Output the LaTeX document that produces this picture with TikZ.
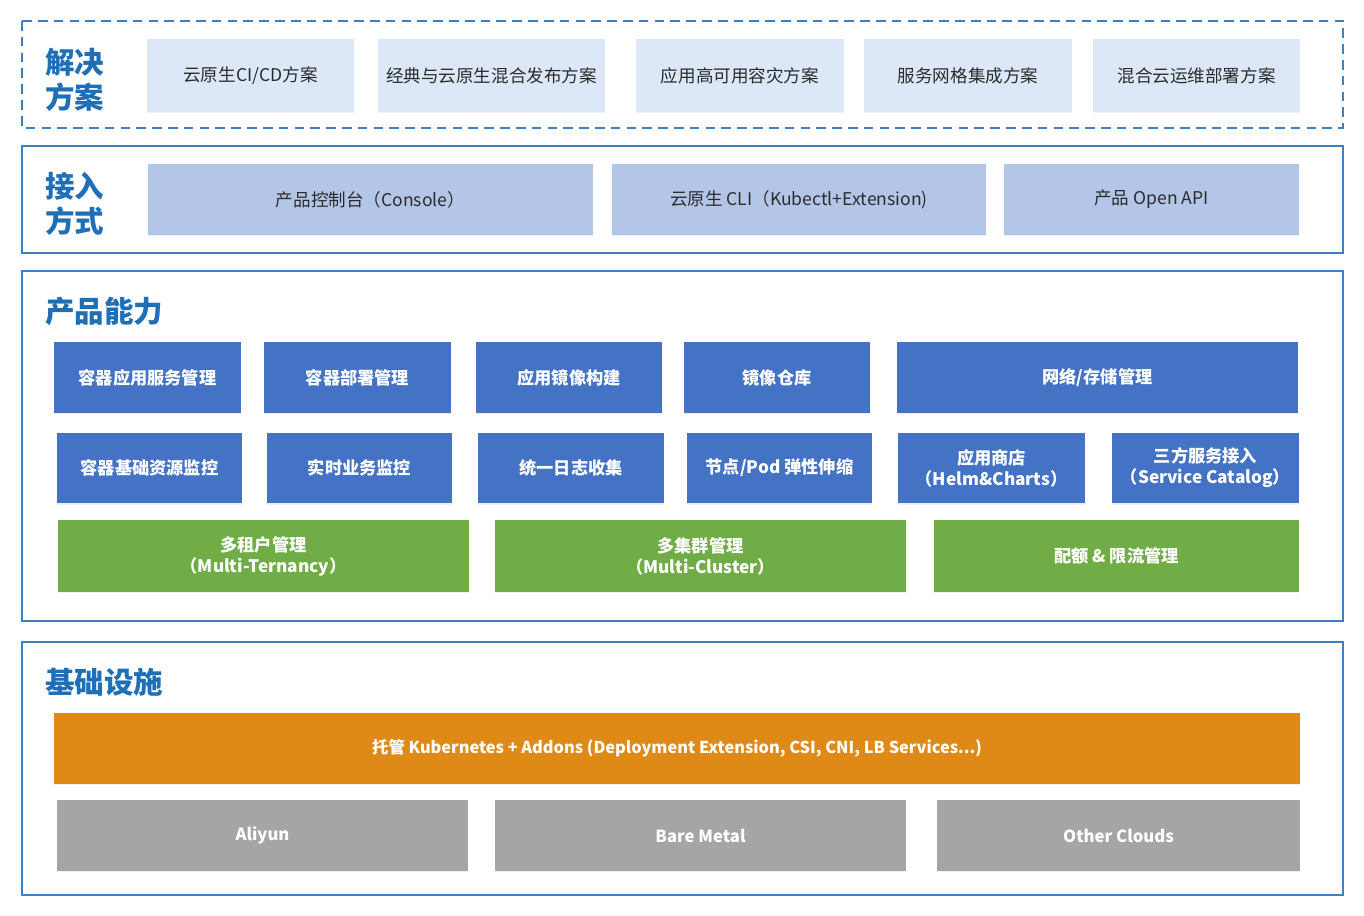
\documentclass[tikz,border=0pt]{standalone}
\usepackage{fontspec}
\setmainfont{Noto Sans CJK SC}
\usetikzlibrary{shadows}
\definecolor{frameblue}{HTML}{3A82C4}
\definecolor{titleblue}{HTML}{1F6FB7}
\definecolor{solfill}{HTML}{DCE8F8}
\definecolor{accfill}{HTML}{B4C6E7}
\definecolor{capblue}{HTML}{4472C4}
\definecolor{capgreen}{HTML}{70AD47}
\definecolor{k8sorange}{HTML}{DF8A17}
\definecolor{cloudgrey}{HTML}{A5A5A5}
\definecolor{ink}{HTML}{2B2B2B}
\tikzset{
  tile/.style={
    inner sep=0pt, align=center,
    drop shadow={shadow xshift=0pt, shadow yshift=-0.8pt, opacity=0.12}
  },
  solbox/.style={tile, fill=solfill, text=ink, minimum height=1.46cm,
    font=\fontsize{10}{12}\selectfont},
  accbox/.style={tile, fill=accfill, text=ink, minimum height=1.42cm,
    font=\fontsize{10}{12}\selectfont},
  capbox/.style={tile, fill=capblue, text=white, minimum height=1.42cm,
    font=\fontsize{9.8}{12}\selectfont\bfseries},
  tenbox/.style={tile, fill=capgreen, text=white, minimum height=1.44cm,
    font=\fontsize{9.8}{12}\selectfont\bfseries},
  k8sbox/.style={tile, fill=k8sorange, text=white, minimum height=1.42cm,
    font=\fontsize{9.3}{11.5}\selectfont\bfseries},
  cloudbox/.style={tile, fill=cloudgrey, text=white, minimum height=1.42cm,
    font=\fontsize{9.5}{11.5}\selectfont\bfseries},
  layer/.style={draw=frameblue, line width=0.8pt},
  layertitle/.style={anchor=west, inner sep=0pt, text=titleblue, align=left,
    font=\fontsize{16.8}{20}\selectfont\bfseries}
}

\begin{document}
\begin{tikzpicture}[x=0.02cm, y=-0.02cm]
  \useasboundingbox (0,0) rectangle (1364,915);
  % layers
  \draw[layer, dash pattern=on 5.5pt off 3.5pt] (22,21) rectangle (1343,128);
  \draw[layer] (22,146) rectangle (1343,253);
  \draw[layer] (22,271) rectangle (1343,621);
  \draw[layer] (22,642) rectangle (1343,895);
  \node[layertitle] (tsol) at (45,79.5) {解决\\方案};
  \node[layertitle] (tacc) at (45,203.5) {接入\\方式};
  \node[layertitle] (tcap) at (45,311) {产品能力};
  \node[layertitle] (tinf) at (45,682) {基础设施};
  % solutions
  \node[solbox, minimum width=4.14cm] (s1) at (250.5,75.5) {云原生CI/CD方案};
  \node[solbox, minimum width=4.54cm] (s2) at (491.5,75.5) {经典与云原生混合发布方案};
  \node[solbox, minimum width=4.16cm] (s3) at (740,75.5) {应用高可用容灾方案};
  \node[solbox, minimum width=4.16cm] (s4) at (968,75.5) {服务网格集成方案};
  \node[solbox, minimum width=4.14cm] (s5) at (1196.5,75.5) {混合云运维部署方案};
  % access
  \node[accbox, minimum width=8.9cm] (a1) at (370.5,199.5) {产品控制台（Console）};
  \node[accbox, minimum width=7.48cm] (a2) at (799,199.5) {云原生 CLI（Kubectl+Extension)};
  \node[accbox, minimum width=5.9cm] (a3) at (1151.5,199.5) {产品 Open API};
  % capabilities
  \node[capbox, minimum width=3.74cm] (c1) at (147.5,377.5) {容器应用服务管理};
  \node[capbox, minimum width=3.74cm] (c2) at (357.5,377.5) {容器部署管理};
  \node[capbox, minimum width=3.72cm] (c3) at (569,377.5) {应用镜像构建};
  \node[capbox, minimum width=3.72cm] (c4) at (777,377.5) {镜像仓库};
  \node[capbox, minimum width=8.02cm] (c5) at (1097.5,377.5) {网络/存储管理};
  \node[capbox, minimum width=3.70cm] (m1) at (149.5,468) {容器基础资源监控};
  \node[capbox, minimum width=3.70cm] (m2) at (359.5,468) {实时业务监控};
  \node[capbox, minimum width=3.72cm] (m3) at (571,468) {统一日志收集};
  \node[capbox, minimum width=3.70cm] (m4) at (779.5,468) {节点/Pod 弹性伸缩};
  \node[capbox, minimum width=3.74cm] (m5) at (991.5,468) {应用商店\\（Helm\&Charts）};
  \node[capbox, minimum width=3.74cm] (m6) at (1205.5,468) {三方服务接入\\（Service Catalog）};
  \node[tenbox, minimum width=8.22cm] (g1) at (263.5,556) {多租户管理\\（Multi-Ternancy）};
  \node[tenbox, minimum width=8.22cm] (g2) at (700.5,556) {多集群管理\\（Multi-Cluster）};
  \node[tenbox, minimum width=7.30cm] (g3) at (1116.5,556) {配额 \& 限流管理};
  % infrastructure
  \node[k8sbox, minimum width=24.92cm] (k8s) at (677,748.5) {托管 Kubernetes + Addons (Deployment Extension, CSI, CNI, LB Services...)};
  \node[cloudbox, minimum width=8.22cm] (i1) at (262.5,835.5) {Aliyun};
  \node[cloudbox, minimum width=8.22cm] (i2) at (700.5,835.5) {Bare Metal};
  \node[cloudbox, minimum width=7.26cm] (i3) at (1118.5,835.5) {Other Clouds};
\end{tikzpicture}
\end{document}
